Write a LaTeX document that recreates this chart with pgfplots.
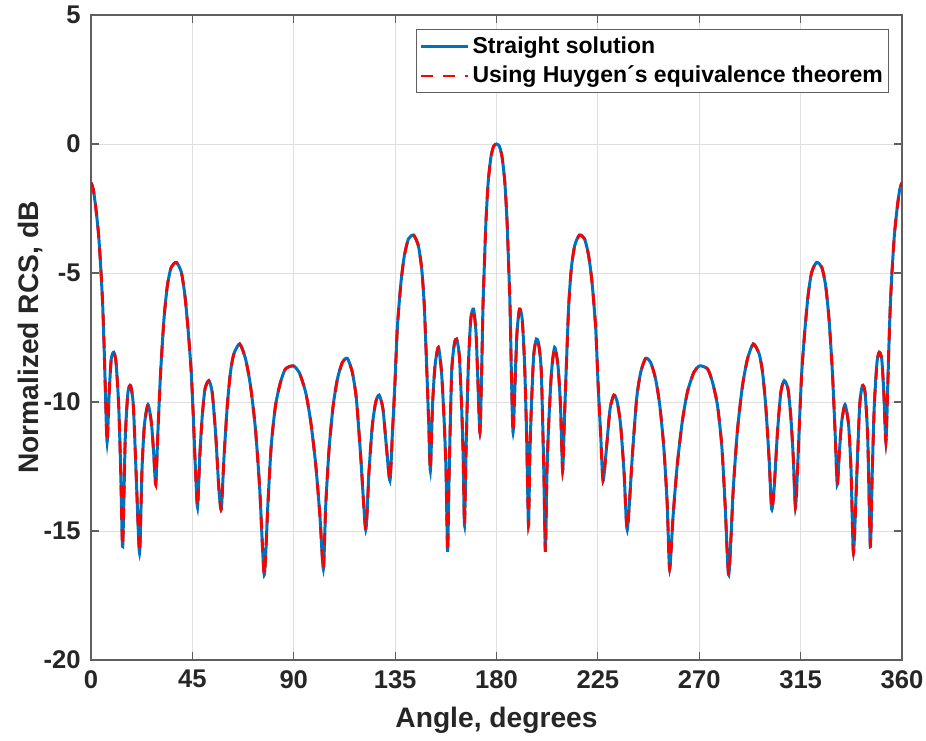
\documentclass[border=0pt]{standalone}
\usepackage{pgfplots}
\usepackage{pgfplotstable}
\pgfplotsset{compat=1.18}
\usepackage{fontspec}
\setmainfont{Liberation Sans}
\definecolor{mblue}{RGB}{0,114,189}
\definecolor{axgray}{RGB}{38,38,38}
\definecolor{axline}{RGB}{95,95,95}
\definecolor{gridgray}{RGB}{223,223,223}

\pgfplotstableread{
x y
0 -1.5
1.0 -1.75
2.2 -2.52
3.4 -3.55
4.45 -4.97
5.2 -6.27
5.8 -7.8
6.4 -9.6
7.15 -11.55
8.1 -9.6
9.0 -8.33
10.1 -8.07
11.1 -8.46
12.3 -10.14
13.2 -12.7
14.05 -15.6
15.2 -11.43
16.4 -9.63
17.6 -9.37
18.8 -10.14
20.0 -12.7
21.55 -15.85
22.6 -12.7
23.7 -10.9
25.3 -10.1
26.8 -10.8
27.8 -11.95
28.75 -13.2
29.7 -11.17
30.9 -8.85
32.4 -6.78
33.9 -5.49
35.6 -4.78
37.9 -4.59
40.1 -4.97
41.7 -5.88
43.2 -7.3
44.5 -8.85
45.4 -10.53
46.3 -12.47
47.3 -14.08
48.3 -12.08
49.4 -10.53
50.6 -9.5
52.3 -9.17
53.8 -9.63
55.3 -11.2
56.8 -13.4
57.85 -14.15
59.0 -12.2
60.5 -10.14
61.9 -8.85
63.4 -8.14
66.0 -7.75
68.6 -8.33
70.8 -9.37
73.0 -11.05
74.9 -13.37
76.9 -16.7
78.5 -14.0
80.0 -11.7
81.9 -10.14
84.1 -9.24
86.3 -8.72
89.8 -8.6
92.4 -8.85
95.3 -9.63
97.6 -10.8
99.8 -12.47
101.6 -14.4
103.15 -16.47
104.2 -14.0
105.7 -11.8
107.5 -10.14
109.4 -9.1
111.6 -8.46
113.8 -8.31
116.0 -8.85
117.8 -9.88
119.7 -12.08
121.95 -14.95
123.4 -12.7
124.9 -10.9
126.4 -10.0
127.9 -9.73
129.6 -10.27
131.1 -11.7
132.7 -13.05
133.8 -11.2
134.9 -9.3
136.0 -7.1
137.6 -5.36
139.1 -4.33
140.9 -3.68
143.2 -3.53
145.3 -3.94
146.8 -4.84
147.95 -6.27
149.1 -8.85
149.9 -10.8
150.65 -12.66
151.6 -10.14
152.7 -8.6
154.2 -7.88
155.6 -8.85
156.8 -10.8
157.6 -12.7
158.3 -15.8
159.0 -12.7
160.1 -8.85
161.3 -7.75
162.3 -7.56
163.5 -8.2
164.5 -10.14
165.2 -12.08
165.8 -14.77
166.6 -11.43
167.5 -8.6
168.6 -6.78
169.8 -6.4
170.9 -7.3
171.6 -8.85
172.65 -11.18
173.4 -8.85
174.0 -6.27
174.6 -4.72
175.3 -3.04
176.3 -1.49
177.5 -0.52
178.7 -0.09
180 0
181.3 -0.09
182.5 -0.52
183.7 -1.49
184.7 -3.04
185.4 -4.72
186.0 -6.27
186.6 -8.85
187.35 -11.18
188.4 -8.85
189.1 -7.3
190.2 -6.4
191.4 -6.78
192.5 -8.6
193.4 -11.43
194.2 -14.77
194.8 -12.08
195.5 -10.14
196.5 -8.2
197.7 -7.56
198.7 -7.75
199.9 -8.85
201.0 -12.7
201.7 -15.8
202.4 -12.7
203.2 -10.8
204.4 -8.85
205.8 -7.88
207.3 -8.6
208.4 -10.14
209.35 -12.66
210.1 -10.8
210.9 -8.85
212.05 -6.27
213.2 -4.84
214.7 -3.94
216.8 -3.53
219.1 -3.68
220.9 -4.33
222.4 -5.36
224.0 -7.1
225.1 -9.3
226.2 -11.2
227.3 -13.05
228.9 -11.7
230.4 -10.27
232.1 -9.73
233.6 -10.0
235.1 -10.9
236.6 -12.7
238.05 -14.95
240.3 -12.08
242.2 -9.88
244.0 -8.85
246.2 -8.31
248.4 -8.46
250.6 -9.1
252.5 -10.14
254.3 -11.8
255.8 -14.0
256.85 -16.47
258.4 -14.4
260.2 -12.47
262.4 -10.8
264.7 -9.63
267.6 -8.85
270.2 -8.6
273.7 -8.72
275.9 -9.24
278.1 -10.14
280.0 -11.7
281.5 -14.0
283.1 -16.7
285.1 -13.37
287.0 -11.05
289.2 -9.37
291.4 -8.33
294.0 -7.75
296.6 -8.14
298.1 -8.85
299.5 -10.14
301.0 -12.2
302.15 -14.15
303.2 -13.4
304.7 -11.2
306.2 -9.63
307.7 -9.17
309.4 -9.5
310.6 -10.53
311.7 -12.08
312.7 -14.08
313.7 -12.47
314.6 -10.53
315.5 -8.85
316.8 -7.3
318.3 -5.88
319.9 -4.97
322.1 -4.59
324.4 -4.78
326.1 -5.49
327.6 -6.78
329.1 -8.85
330.3 -11.17
331.25 -13.2
332.2 -11.95
333.2 -10.8
334.7 -10.1
336.3 -10.9
337.4 -12.7
338.45 -15.85
340.0 -12.7
341.2 -10.14
342.4 -9.37
343.6 -9.63
344.8 -11.43
345.95 -15.6
346.8 -12.7
347.7 -10.14
348.9 -8.46
349.9 -8.07
351.0 -8.33
351.9 -9.6
352.85 -11.55
353.6 -9.6
354.2 -7.8
354.8 -6.27
355.55 -4.97
356.6 -3.55
357.8 -2.52
359.0 -1.75
360 -1.5
}\rcs

\begin{document}
\begin{tikzpicture}
\useasboundingbox (-45.5pt,-40pt) rectangle (417.5pt,330pt);
\begin{axis}[
  at={(0pt,0pt)}, anchor=south west,
  scale only axis, width=405.5pt, height=322.5pt,
  xmin=0, xmax=360, ymin=-20, ymax=5,
  xtick={0,45,90,135,180,225,270,315,360},
  ytick={-20,-15,-10,-5,0,5},
  xticklabels={0,45,90,135,180,225,270,315,360},
  yticklabels={-20,-15,-10,-5,0,5},
  tick align=inside, tick pos=both, major tick length=4pt,
  grid=major, major grid style={gridgray, line width=0.5pt},
  axis line style={axline, line width=0.6pt},
  every tick/.style={axline, line width=0.6pt},
  ticklabel style={font=\fontsize{12.8}{14}\selectfont\bfseries, text=axgray},
  yticklabel style={inner sep=0pt, xshift=-5pt},
  xticklabel style={yshift=-1.6pt},
  xlabel={Angle, degrees}, ylabel={Normalized RCS, dB},
  label style={font=\fontsize{14.1}{16}\selectfont\bfseries, text=axgray},
  xlabel style={at={(axis description cs:0.5,-0.093)}, anchor=center},
  ylabel style={at={(axis description cs:-0.0752,0.5)}, anchor=center},
  legend cell align=left,
  legend image code/.code={\draw[#1] (0pt,0pt) -- (23.5pt,0pt);},
  legend style={at={(1,1)}, anchor=north east, xshift=-6.35pt, yshift=-7.15pt,
    draw=axline, line width=0.5pt, fill=white,
    font=\fontsize{11.5}{13}\selectfont\bfseries, text=black,
    inner xsep=1.5pt, inner ysep=0.8pt,
    nodes={inner xsep=1.5pt, inner ysep=2.5pt}},
]
\addplot[mblue, line width=1.5pt, smooth, tension=0.4] table[x=x, y=y] {\rcs};
\addlegendentry{Straight solution}
\addplot[red, line width=1.4pt, smooth, tension=0.4, dash pattern=on 6pt off 5pt] table[x=x, y=y] {\rcs};
\addlegendentry{Using Huygen´s equivalence theorem}
\end{axis}
\end{tikzpicture}
\end{document}
